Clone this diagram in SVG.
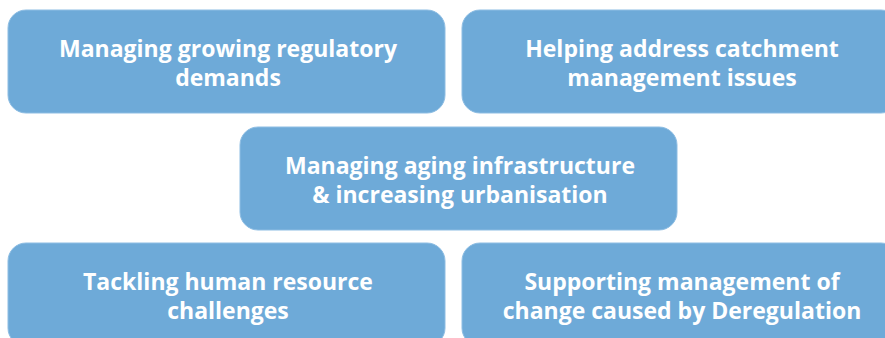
<svg xmlns="http://www.w3.org/2000/svg" width="885" height="338" viewBox="0 0 885 338">
<style>
.box{fill:#6eaad8;stroke:#8dbde3;stroke-width:1}
.t{font-family:"Open Sans","Noto Sans",sans-serif;font-weight:700;font-size:23px;fill:#ffffff;text-anchor:middle}
</style>
<rect width="885" height="338" fill="#ffffff"/>
<g id="connectors"></g>
<g id="n1"><rect class="box" x="8" y="10" width="437" height="103" rx="18"/>
<text class="t" x="228" y="57">Managing growing regulatory</text><text class="t" x="228" y="86">demands</text></g>
<g id="n2"><rect class="box" x="462" y="10" width="437" height="103" rx="18"/>
<text class="t" x="682" y="57">Helping address catchment</text><text class="t" x="682" y="86">management issues</text></g>
<g id="n3"><rect class="box" x="240" y="127" width="437" height="103" rx="18"/>
<text class="t" x="460" y="174">Managing aging infrastructure</text><text class="t" x="460" y="203">&amp; increasing urbanisation</text></g>
<g id="n4"><rect class="box" x="8" y="243" width="437" height="103" rx="18"/>
<text class="t" x="228" y="290">Tackling human resource</text><text class="t" x="228" y="319">challenges</text></g>
<g id="n5"><rect class="box" x="462" y="243" width="437" height="103" rx="18"/>
<text class="t" x="682" y="290">Supporting management of</text><text class="t" x="682" y="319">change caused by Deregulation</text></g>
</svg>
